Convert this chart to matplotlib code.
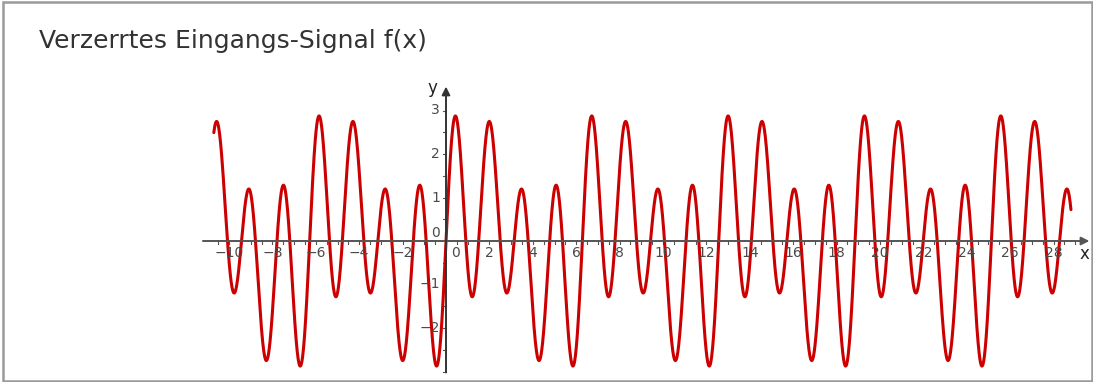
"""Verzerrtes Eingangs-Signal f(x) -- GeoGebra-style function plot."""
import numpy as np
import matplotlib
matplotlib.use("Agg")
import matplotlib.pyplot as plt
from matplotlib.patches import Rectangle

TITLE = "Verzerrtes Eingangs-Signal f(x)"
# f(x) = sum(amp * sin(freq * x)), coefficients
FREQS = [1, 3, 4]
AMPS = [1.0, 0.5, 2.0]
X_RANGE = [-10.7, 28.8]
X_TICKS = list(range(-10, 29, 2))
Y_TICKS = [-2, -1, 1, 2, 3]

W, H = 1093, 382
X0_PX, Y0_PX = 446, 241          # pixel of the origin
SX, SY = 21.7, 43.5              # px per unit
AX_COL = "#555555"
LBL_COL = "#4a4a4a"

fig = plt.figure(figsize=(W / 100, H / 100), dpi=100)
ax = fig.add_axes([0, 0, 1, 1])
ax.set_xlim(-X0_PX / SX, (W - X0_PX) / SX)
ax.set_ylim(-(H - Y0_PX) / SY, Y0_PX / SY)
ax.axis("off")

# axes with arrows
ax.annotate("", xy=(29.65, 0), xytext=(-11.2, 0),
            arrowprops=dict(arrowstyle="-|>", color=AX_COL, lw=1.4,
                            mutation_scale=12, shrinkA=0, shrinkB=0))
ax.annotate("", xy=(0, 3.55), xytext=(0, -3.02),
            arrowprops=dict(arrowstyle="-|>", color="#333333", lw=1.4,
                            mutation_scale=12, shrinkA=0, shrinkB=0))
ax.text(29.4, -0.3, "x", fontsize=12, color="#222222", ha="center", va="center")
ax.text(-0.62, 3.52, "y", fontsize=12, color="#222222", ha="center", va="center")

# small ticks every 0.5 below x axis, left of y axis
tk = 3.0
for t in np.arange(-10.5, 29.01, 0.5):
    if abs(t) < 1e-9:
        continue
    ax.plot([t, t], [0, -tk / SY], color=AX_COL, lw=0.8)
for t in np.arange(-3.0, 3.01, 0.5):
    if abs(t) < 1e-9:
        continue
    ax.plot([0, -tk / SX], [t, t], color=AX_COL, lw=0.8)

for t in X_TICKS:
    lab = "0" if t == 0 else (f"\u2212{abs(t)}" if t < 0 else str(t))
    xp = 0.42 if t == 0 else t
    ax.text(xp, -12 / SY, lab, fontsize=10, color=LBL_COL, ha="center", va="center")
for t in Y_TICKS:
    lab = f"\u2212{abs(t)}" if t < 0 else str(t)
    ax.text(-6 / SX, t, lab, fontsize=10, color=LBL_COL, ha="right", va="center")
ax.text(-6 / SX, 8 / SY, "0", fontsize=10, color=LBL_COL, ha="right", va="center")

# the signal
x = np.linspace(X_RANGE[0], X_RANGE[1], 4000)
y = sum(a * np.sin(f * x) for f, a in zip(FREQS, AMPS))
ax.plot(x, y, color="#cc0000", lw=2.2, solid_capstyle="round")

fig.text(39 / W, 1 - 41 / H, TITLE, fontsize=18, color="#333333",
         ha="left", va="center")
fig.patches.append(Rectangle((3 / W, 1 / H), 1 - 4 / W, 1 - 3 / H,
                             transform=fig.transFigure, fill=False,
                             edgecolor="#9a9a9a", lw=1.8))
fig.savefig("out.png", dpi=100)
